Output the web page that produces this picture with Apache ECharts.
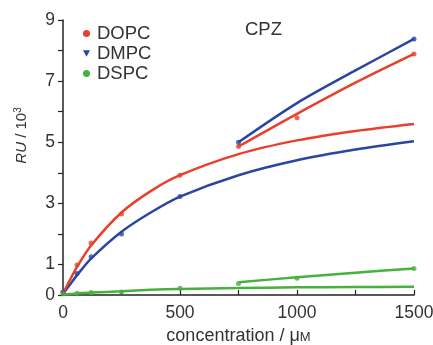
<!DOCTYPE html>
<html>
<head>
<meta charset="utf-8">
<script src="https://cdn.jsdelivr.net/npm/echarts@6/dist/echarts.min.js"></script>
<style>
  html, body { margin: 0; padding: 0; background: #fff; }
  #chart { width: 433px; height: 345px; }
</style>
</head>
<body>
<div id="chart"></div>
<script>
// measured points (µM -> RU / 10^3)
const ptConc = [0, 60, 120, 250, 500];
const dopcPts = [0.1, 0.98, 1.7, 2.65, 3.92];
const dmpcPts = [0.08, 0.7, 1.25, 2.0, 3.22];
const dspcPts = [0.04, 0.06, 0.08, 0.1, 0.22];

// fitted curves
const fitConc = [0, 30, 60, 120, 250, 375, 500, 750, 1000, 1250, 1500];
const dopcFit = [0.05, 0.5, 0.92, 1.62, 2.7, 3.4, 3.92, 4.61, 5.06, 5.37, 5.6];
const dmpcFit = [0.04, 0.34, 0.65, 1.19, 2.07, 2.7, 3.22, 3.92, 4.41, 4.76, 5.03];
const dspcFit = [0.02, 0.03, 0.05, 0.08, 0.12, 0.17, 0.2, 0.23, 0.25, 0.26, 0.27];

// upper branch (750 - 1500 µM)
const hiConc = [750, 1000, 1250, 1500];
const dopcHi = [4.86, 5.93, 6.95, 7.89];
const dmpcHi = [5.0, 6.28, 7.35, 8.38];
const dspcHi = [0.42, 0.58, 0.73, 0.87];
const dopcHiPts = [[750, 4.86], [1000, 5.8], [1500, 7.89]];
const dmpcHiPts = [[750, 5.0], [1500, 8.38]];
const dspcHiPts = [[750, 0.38], [1000, 0.55], [1500, 0.87]];

const xLabels = [0, 500, 1000, 1500];
const yLabels = [0, 1, 3, 5, 7, 9];

const RED = '#e8402c';
const BLUE = '#2b46a0';
const GREEN = '#46b13c';
const FONT = 'Liberation Sans, Arial, sans-serif';

const zip = (xs, ys) => xs.map((x, i) => [x, ys[i]]);

const chart = echarts.init(document.getElementById('chart'), null, { renderer: 'canvas' });

function line(name, xs, ys, color) {
  return {
    name, type: 'line', smooth: 0.3, showSymbol: false, silent: true,
    lineStyle: { color, width: 2.5 }, itemStyle: { color },
    data: zip(xs, ys), z: 2,
  };
}
function dots(name, data, color, symbol) {
  return {
    name, type: 'scatter', symbol: symbol || 'circle', symbolSize: 5,
    itemStyle: { color }, data, z: 3,
  };
}

chart.setOption({
  animation: false,
  backgroundColor: '#fff',
  textStyle: { fontFamily: FONT },
  grid: { left: 63, right: 19, top: 20, bottom: 50, outerBoundsMode: 'none' },
  legend: {
    orient: 'vertical', left: 78, top: 19, itemGap: 1,
    itemWidth: 7, itemHeight: 7,
    textStyle: { fontSize: 18.5, color: '#333', fontFamily: FONT, padding: [0, 0, 0, 2] },
    data: [
      { name: 'DOPC', icon: 'circle' },
      { name: 'DMPC', icon: 'path://M0,0L10,0L5,9Z' },
      { name: 'DSPC', icon: 'circle' },
    ],
  },
  graphic: [{
    type: 'text', left: 245, top: 20,
    style: { text: 'CPZ', fontSize: 18.5, fill: '#333', fontFamily: FONT },
  }],
  xAxis: {
    type: 'value', min: 0, max: 1500, interval: 250,
    name: 'concentration / {u|μ}{sc|M}',
    nameLocation: 'middle', nameGap: 32,
    nameTextStyle: {
      fontSize: 18, color: '#333', fontFamily: FONT,
      rich: { u: { fontSize: 18, color: '#333' }, sc: { fontSize: 13, color: '#333', padding: [3, 0, 0, 0] } },
    },
    axisLine: { onZero: false, lineStyle: { color: '#222', width: 1.5 } },
    axisTick: { inside: true, length: 5, lineStyle: { color: '#222', width: 1.2 } },
    axisLabel: {
      fontSize: 17.5, color: '#333', margin: 9,
      formatter: v => (xLabels.includes(v) ? String(v) : ''),
    },
    splitLine: { show: false },
  },
  yAxis: {
    type: 'value', min: 0, max: 9, interval: 1,
    name: '{i|RU} / 10{s|3}',
    nameLocation: 'middle', nameGap: 33, nameRotate: 90,
    nameTextStyle: {
      fontSize: 15, color: '#333', fontFamily: FONT,
      padding: [0, 0, 0, 44],
      rich: {
        i: { fontSize: 15, fontStyle: 'italic', color: '#333' },
        s: { fontSize: 10, color: '#333', verticalAlign: 'top', padding: [0, 0, 7, 0] },
      },
    },
    axisLine: { show: true, lineStyle: { color: '#222', width: 1.5 } },
    axisTick: { show: true, length: 5, lineStyle: { color: '#222', width: 1.2 } },
    axisLabel: {
      fontSize: 17.5, color: '#333', margin: 8,
      formatter: v => (yLabels.includes(v) ? String(v) : ''),
    },
    splitLine: { show: false },
  },
  series: [
    line('DSPC', fitConc, dspcFit, GREEN),
    line('DSPC', hiConc, dspcHi, GREEN),
    line('DMPC', fitConc, dmpcFit, BLUE),
    line('DMPC', hiConc, dmpcHi, BLUE),
    line('DOPC', fitConc, dopcFit, RED),
    line('DOPC', hiConc, dopcHi, RED),
    dots('DOPC', zip(ptConc, dopcPts).concat(dopcHiPts), RED),
    dots('DMPC', zip(ptConc, dmpcPts).concat(dmpcHiPts), BLUE),
    dots('DSPC', zip(ptConc, dspcPts).concat(dspcHiPts), GREEN),
  ],
});
</script>
</body>
</html>
